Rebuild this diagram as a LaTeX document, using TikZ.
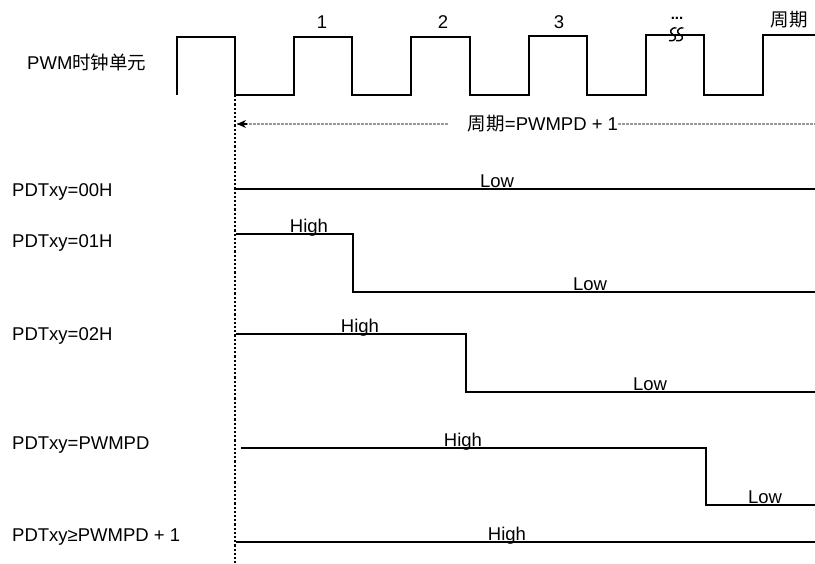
\documentclass[tikz,border=0pt]{standalone}
\usepackage{fontspec}
\setmainfont{Liberation Sans}
\newfontfamily\cjk{Noto Sans CJK SC}
\usetikzlibrary{arrows.meta}
\begin{document}
\begin{tikzpicture}[x=1pt,y=-1pt,
  lbl/.style={inner sep=0pt,font=\fontsize{18.5}{20}\selectfont},
  leftlbl/.style={lbl,anchor=west},
  onlbl/.style={lbl,anchor=base},
  wave/.style={line width=1.8pt,line join=miter},
  sig/.style={line width=1.6pt,line join=miter},
  vdot/.style={line width=1.6pt,dash pattern=on 2.2pt off 2pt},
  gdot/.style={line width=1.5pt,gray!80,dash pattern=on 2.5pt off 1.5pt}]
\useasboundingbox (0,0) rectangle (815,563);
% PWM clock
\draw[wave] (177,95) -- (177,37) -- (235,37) -- (235,95) -- (294,95) -- (294,37)
  -- (352,37) -- (352,95) -- (411,95) -- (411,37) -- (470,37) -- (470,95)
  -- (529,95) -- (529,36) -- (587,36) -- (587,95) -- (646,95) -- (646,35)
  -- (704,35) -- (704,95) -- (763,95) -- (763,35) -- (815,35);
% break mark
\draw[line width=1.4pt] (676.5,28) .. controls (670,27) and (669,33) .. (673,34.5)
  .. controls (677,36) and (676.5,42) .. (669,40.5);
\draw[line width=1.4pt] (683.5,28) .. controls (677,27) and (676,33) .. (680,34.5)
  .. controls (684,36) and (683.5,42) .. (676,40.5);
\node[lbl] (n1) at (322,22) {1};
\node[lbl] (n2) at (443,22) {2};
\node[lbl] (n3) at (559,22) {3};
\node[inner sep=0pt,anchor=base,font=\fontsize{15}{16}\selectfont\bfseries] (dots) at (677,19) {...};
\node[lbl] (per) at (789,20) {\cjk 周期};
\node[leftlbl] (pwm) at (27,62) {PWM{\cjk 时钟单元}};
% start line
\coordinate (vt) at (235,95);
\coordinate (vb) at (235,563);
\draw[vdot] (vt) -- (vb);
% period arrow
\node[lbl] (ptext) at (543,124) {{\cjk 周期}=PWMPD + 1};
\coordinate (al) at (237,124);
\coordinate (ar) at (815,124);
\draw[gdot] (ptext.west) ++(-20,0) -- (al);
\draw[-{Stealth[length=9pt,width=8pt]},black,line width=1.2pt] (247,124) -- (al);
\draw[gdot] (ptext.east) -- (ar);
% signals
\node[leftlbl] (l0) at (12,192) {PDTxy=00H};
\draw[sig] (236,189) -- (815,189);
\node[onlbl] (lo0) at (497,187) {Low};
\node[leftlbl] (l1) at (12,243) {PDTxy=01H};
\draw[sig] (236,234) -- (353,234) -- (353,292) -- (815,292);
\node[onlbl] (hi1) at (309,232) {High};
\node[onlbl] (lo1) at (590,290) {Low};
\node[leftlbl] (l2) at (12,336) {PDTxy=02H};
\draw[sig] (236,334) -- (466,334) -- (466,392) -- (815,392);
\node[onlbl] (hi2) at (360,332) {High};
\node[onlbl] (lo2) at (650,390) {Low};
\node[leftlbl] (l3) at (12,445) {PDTxy=PWMPD};
\draw[sig] (241,448) -- (706,448) -- (706,505) -- (815,505);
\node[onlbl] (hi3) at (463,446) {High};
\node[onlbl] (lo3) at (765,503) {Low};
\node[leftlbl] (l4) at (12,537) {PDTxy≥PWMPD + 1};
\draw[sig] (236,542) -- (815,542);
\node[onlbl] (hi4) at (507,540) {High};
\end{tikzpicture}
\end{document}
